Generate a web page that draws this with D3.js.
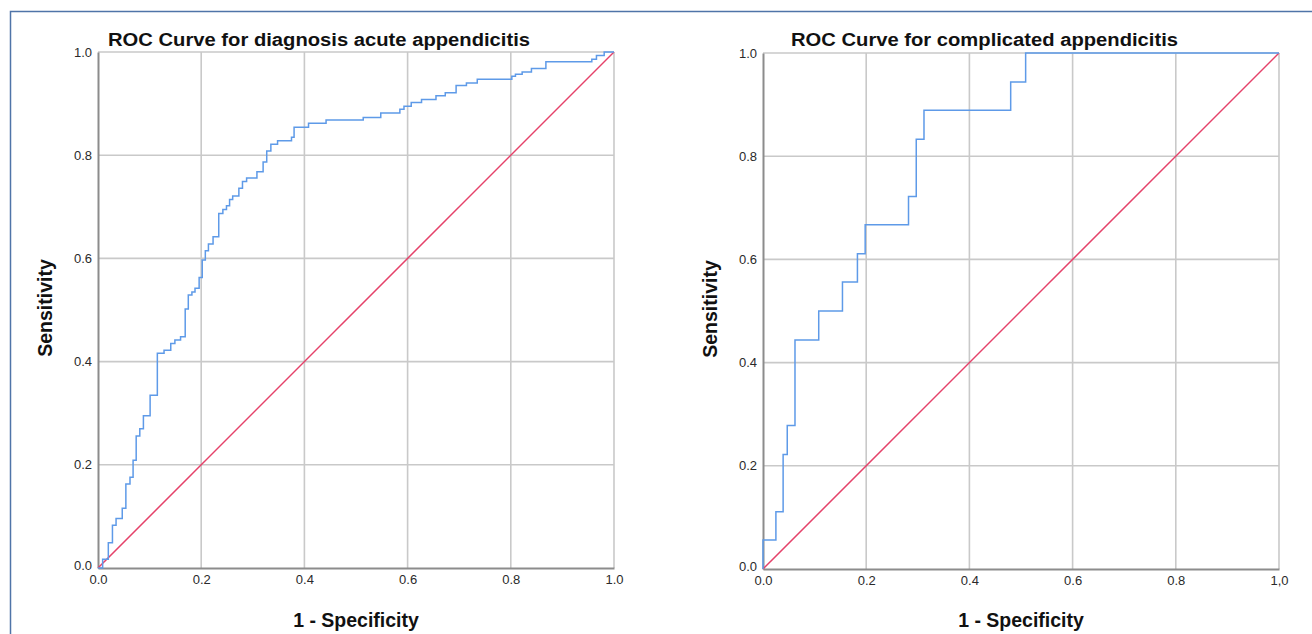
<!DOCTYPE html>
<html><head><meta charset="utf-8">
<script src="https://cdn.jsdelivr.net/npm/d3@7"></script>
<style>body{margin:0;background:#fff}svg{display:block}</style>
</head><body>
<svg id="c" width="1312" height="634"></svg>
<script>
// ---- data ----
const tickValues = [0, 0.2, 0.4, 0.6, 0.8, 1.0];
const leftXTickLabels = ["0.0", "0.2", "0.4", "0.6", "0.8", "1.0"];
const leftYTickLabels = ["0.0", "0.2", "0.4", "0.6", "0.8", "1.0"];
const rightXTickLabels = ["0.0", "0.2", "0.4", "0.6", "0.8", "1,0"];
const rightYTickLabels = ["0.0", "0.2", "0.4", "0.6", "0.8", "1.0"];
const titles = ["ROC Curve for diagnosis acute appendicitis", "ROC Curve for complicated appendicitis"];
const xTitle = "1 - Specificity";
const yTitle = "Sensitivity";

// acute appendicitis ROC (1 - specificity, sensitivity)
const acuteFpr = [0, 0.009, 0.020, 0.028, 0.035, 0.047, 0.054, 0.062, 0.068, 0.074, 0.081, 0.088, 0.101, 0.115, 0.128, 0.141, 0.149, 0.160, 0.169, 0.175, 0.182, 0.188, 0.196, 0.202, 0.208, 0.214, 0.223, 0.234, 0.242, 0.249, 0.255, 0.261, 0.273, 0.280, 0.288, 0.308, 0.320, 0.327, 0.335, 0.348, 0.375, 0.380, 0.408, 0.442, 0.514, 0.548, 0.585, 0.593, 0.607, 0.627, 0.655, 0.673, 0.694, 0.714, 0.735, 0.802, 0.809, 0.822, 0.840, 0.868, 0.957, 0.966, 0.981, 1.0];
const acuteTpr = [0, 0.017, 0.049, 0.083, 0.096, 0.116, 0.163, 0.176, 0.209, 0.256, 0.270, 0.295, 0.335, 0.416, 0.422, 0.435, 0.442, 0.448, 0.502, 0.529, 0.535, 0.542, 0.563, 0.597, 0.615, 0.628, 0.642, 0.687, 0.695, 0.702, 0.714, 0.721, 0.736, 0.749, 0.756, 0.768, 0.787, 0.808, 0.821, 0.828, 0.835, 0.854, 0.862, 0.868, 0.873, 0.882, 0.889, 0.895, 0.902, 0.908, 0.915, 0.921, 0.935, 0.940, 0.947, 0.953, 0.957, 0.961, 0.968, 0.981, 0.986, 0.993, 1.0, 1.0];

// complicated appendicitis ROC
const compFpr = [0, 0, 0.025, 0.039, 0.047, 0.062, 0.108, 0.154, 0.183, 0.198, 0.282, 0.297, 0.312, 0.480, 0.509, 1.0];
const compTpr = [0, 0.056, 0.111, 0.222, 0.278, 0.444, 0.500, 0.556, 0.611, 0.667, 0.722, 0.833, 0.889, 0.944, 1.0, 1.0];

const refLine = [0, 1];

// ---- drawing ----
const svg = d3.select("#c");
const FONT = "'Liberation Sans', Arial, sans-serif";

svg.append("rect").attr("x", 10.5).attr("y", 11.5).attr("width", 1320).attr("height", 640)
  .attr("fill", "none").attr("stroke", "#4f74a8").attr("stroke-width", 1.5);

function panel(cfg) {
  const x = d3.scaleLinear().domain([0, 1]).range([cfg.left, cfg.left + 516]);
  const y = d3.scaleLinear().domain([0, 1]).range([cfg.top + 516, cfg.top]);
  const g = svg.append("g");

  // grid
  g.append("g").selectAll("line").data(tickValues.slice(1)).join("line")
    .attr("x1", d => x(d)).attr("x2", d => x(d)).attr("y1", y(0)).attr("y2", y(1))
    .attr("stroke", "#c9c9c9").attr("stroke-width", 1.6);
  g.append("g").selectAll("line").data(tickValues.slice(1)).join("line")
    .attr("y1", d => y(d)).attr("y2", d => y(d)).attr("x1", x(0)).attr("x2", x(1))
    .attr("stroke", "#c9c9c9").attr("stroke-width", 1.6);

  // axes
  const xa = d3.axisBottom(x).tickValues(tickValues).tickSize(0).tickPadding(7)
    .tickFormat((d, i) => cfg.xLabels[i]);
  const ya = d3.axisLeft(y).tickValues(tickValues).tickSize(0).tickPadding(6)
    .tickFormat((d, i) => cfg.yLabels[i]);
  const gx = g.append("g").attr("transform", `translate(0,${y(0)})`).call(xa);
  const gy = g.append("g").attr("transform", `translate(${x(0)},0)`).call(ya);
  [gx, gy].forEach(a => {
    a.select(".domain").attr("stroke", "#8c8c8c").attr("stroke-width", 2);
    a.selectAll("text").attr("font-family", FONT).attr("font-size", 13).attr("fill", "#2a2a2a");
  });
  gy.selectAll(".tick").filter(d => d === 0).select("text").attr("dy", "0.1em");

  // reference diagonal
  g.append("path").datum(refLine)
    .attr("d", d3.line().x(d => x(d)).y(d => y(d)))
    .attr("fill", "none").attr("stroke", "#e5426a").attr("stroke-width", 1.5);

  // ROC curve
  const pts = cfg.fpr.map((f, i) => [f, cfg.tpr[i]]);
  g.append("path").datum(pts)
    .attr("d", d3.line().x(d => x(d[0])).y(d => y(d[1])).curve(d3.curveStepAfter))
    .attr("fill", "none").attr("stroke", "#5e9ae8").attr("stroke-width", 1.5);

  // titles
  g.append("text").attr("x", cfg.titleX).attr("y", 46).text(cfg.title)
    .attr("font-family", FONT).attr("font-weight", "bold").attr("font-size", 18)
    .attr("textLength", cfg.titleW).attr("lengthAdjust", "spacingAndGlyphs").attr("fill", "#111");
  g.append("text").attr("x", x(0.5)).attr("y", 627).attr("text-anchor", "middle").text(xTitle)
    .attr("font-family", FONT).attr("font-weight", "bold").attr("font-size", 19.5).attr("fill", "#111");
  g.append("text").attr("transform", `translate(${cfg.yTitleX},${y(0.5) - 2}) rotate(-90)`)
    .attr("text-anchor", "middle").text(yTitle)
    .attr("font-family", FONT).attr("font-weight", "bold").attr("font-size", 19.5).attr("fill", "#111");
}

panel({left: 98, top: 52, fpr: acuteFpr, tpr: acuteTpr, xLabels: leftXTickLabels, yLabels: leftYTickLabels,
  title: titles[0], titleX: 108, titleW: 422, yTitleX: 52});
panel({left: 763, top: 53, fpr: compFpr, tpr: compTpr, xLabels: rightXTickLabels, yLabels: rightYTickLabels,
  title: titles[1], titleX: 791, titleW: 387, yTitleX: 717});
</script>
</body></html>
